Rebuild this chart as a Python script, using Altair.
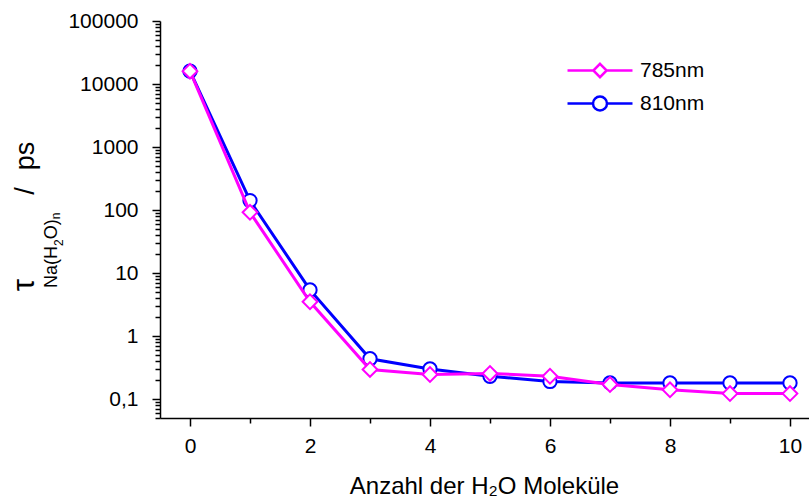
import altair as alt
import pandas as pd

# ---- data ----
n_molecules = list(range(11))
tau_785 = [16000, 92, 3.5, 0.295, 0.245, 0.255, 0.23, 0.17, 0.14, 0.122, 0.122]
tau_810 = [16000, 141, 5.4, 0.436, 0.30, 0.23, 0.19, 0.18, 0.18, 0.18, 0.18]
series_names = ["785nm", "810nm"]
series_colors = ["#FF00FF", "#0000FF"]
x_tick_values = list(range(11))
y_domain = [0.05, 100000]
x_domain = [-0.5, 10.3167]

df = pd.DataFrame({
    "n": n_molecules + n_molecules,
    "tau": tau_785 + tau_810,
    "series": [series_names[0]] * len(n_molecules) + [series_names[1]] * len(n_molecules),
})

FONT = "Liberation Sans"
PINK, BLUE = series_colors

# log ticks 1..9 x 10^k
y_tick_values = []
for k in range(-2, 5):
    for m in range(1, 10):
        v = round(m * 10 ** k, 6)
        if y_domain[0] <= v <= y_domain[1]:
            y_tick_values.append(v)
y_tick_values.append(100000)

is_dec = "abs(log(datum.value)/LN10 - round(log(datum.value)/LN10)) < 1e-6"

x_enc = alt.X(
    "n:Q",
    scale=alt.Scale(domain=x_domain, nice=False, zero=False),
    axis=alt.Axis(
        values=x_tick_values,
        labelExpr="datum.value % 2 == 0 ? datum.label : ''",
        tickSize={"condition": {"test": "datum.value % 2 == 0", "value": 8}, "value": 5},
        tickWidth=1.5, tickColor="black", domainColor="black", domainWidth=1.5,
        labelFont=FONT, labelFontSize=21, labelFontWeight="normal", labelColor="black", labelPadding=9,
        grid=False,
        title="Anzahl der H\u2082O Moleküle",
        titleFont=FONT, titleFontSize=24, titleFontWeight="normal", titleColor="black",
        titleX=324, titleY=75, titleBaseline="alphabetic", titleAlign="center",
    ),
)
y_enc = alt.Y(
    "tau:Q",
    scale=alt.Scale(type="log", domain=y_domain, nice=False),
    axis=alt.Axis(
        values=y_tick_values,
        labelExpr=f"({is_dec}) ? (datum.value < 0.5 ? '0,1' : format(datum.value, 'd')) : ''",
        tickSize={"condition": {"test": is_dec, "value": 8}, "value": 5},
        tickWidth=1.5, tickColor="black", domainColor="black", domainWidth=1.5,
        labelFont=FONT, labelFontSize=21, labelFontWeight="normal", labelColor="black", labelPadding=14,
        labelOverlap=False, grid=False, title=None,
    ),
)

base = alt.Chart(df).encode(x=x_enc, y=y_enc)

line810 = base.transform_filter(alt.datum.series == "810nm").mark_line(color=BLUE, strokeWidth=3)
pts810 = base.transform_filter(alt.datum.series == "810nm").mark_point(
    shape="circle", size=177, filled=True, fill="white", stroke=BLUE, strokeWidth=2, opacity=1)
line785 = base.transform_filter(alt.datum.series == "785nm").mark_line(color=PINK, strokeWidth=3)
pts785 = base.transform_filter(alt.datum.series == "785nm").mark_point(
    shape="diamond", size=216, filled=True, fill="white", stroke=PINK, strokeWidth=2, opacity=1)

# legend symbols: line segment + marker (path extends beyond the unit box)
path_diamond = "M-2,0H-0.41M0.41,0H2M0,-0.41L0.41,0L0,0.41L-0.41,0Z"
path_circle = "M-2,0H-0.43M0.43,0H2M0.43,0A0.43,0.43,0,1,1,-0.43,0A0.43,0.43,0,1,1,0.43,0Z"

leg = dict(title=None, orient="none", legendX=422.5, legendY=32, padding=0,
           labelOffset=22.5, rowPadding=3, symbolSize=1056, symbolStrokeWidth=2.5,
           symbolOpacity=1, symbolFillColor="transparent",
           labelFont=FONT, labelFontSize=21, labelFontWeight="normal", labelColor="black")

legend_layer = base.mark_point(size=1056, filled=False, strokeWidth=2.5, opacity=0).encode(
    color=alt.Color("series:N", scale=alt.Scale(domain=series_names, range=series_colors),
                    legend=alt.Legend(**leg)),
    shape=alt.Shape("series:N", scale=alt.Scale(domain=series_names, range=[path_diamond, path_circle]),
                    legend=alt.Legend(**leg)),
)

# y-axis title built from pieces (tau with nested subscripts)
one = alt.Data(values=[{}])
def piece(txt, x, y, size):
    return alt.Chart(one).mark_text(
        text=txt, angle=270, align="center", baseline="alphabetic",
        font=FONT, fontSize=size, color="black"
    ).encode(x=alt.value(x), y=alt.value(y))

ytitle = [
    piece("τ", -126, 264, 31),
    piece("Na(H", -103, 246, 18),
    piece("2", -97, 221.7, 12),
    piece("O)", -103, 208.3, 18),
    piece("n", -100, 195, 12),
    piece("/", -126, 170, 27),
    piece("ps", -126, 135, 27),
]

chart = alt.layer(line810, pts810, line785, pts785, legend_layer, *ytitle).properties(
    width=649, height=397,
    autosize=alt.AutoSizeParams(type="none"),
    padding={"left": 160, "top": 21, "right": 0, "bottom": 83},
    background="white",
).configure_view(stroke=None)

chart.save("out.html", embed_options={"renderer": "svg", "actions": False})
